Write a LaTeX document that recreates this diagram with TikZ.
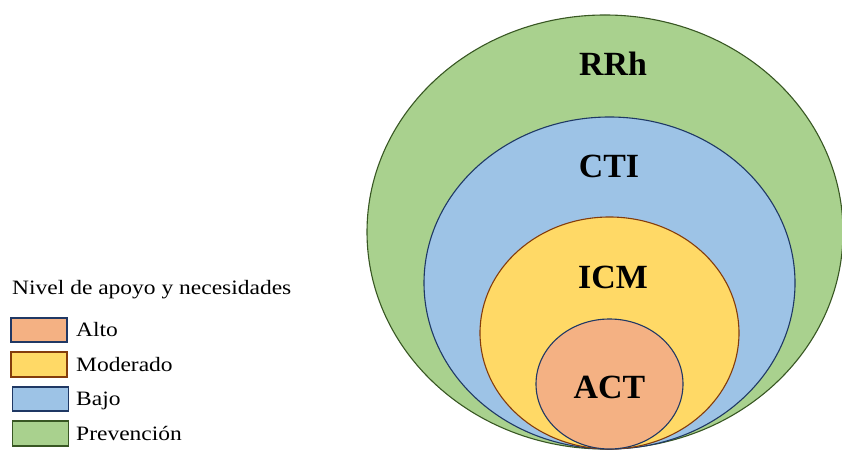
\documentclass[tikz,border=0pt]{standalone}
\usepackage{fontspec}
\setmainfont{Liberation Serif}
\newfontfamily\legendfont[FakeStretch=1.15]{Liberation Serif}
\usepackage{xcolor}
\usepackage{tikz}
\usetikzlibrary{positioning}

\definecolor{prevfill}{HTML}{A9D18E}
\definecolor{prevline}{HTML}{385723}
\definecolor{bajofill}{HTML}{9DC3E6}
\definecolor{bajoline}{HTML}{1F3864}
\definecolor{modfill}{HTML}{FFD966}
\definecolor{modline}{HTML}{843C0C}
\definecolor{altofill}{HTML}{F4B183}
\definecolor{altoline}{HTML}{203864}

\begin{document}
\begin{tikzpicture}[
x=1bp, y=-1bp,
node distance=10bp and 9bp,
ring/.style={line width=1.1bp},
lab/.style={inner sep=0pt, text height=22.5bp, text depth=0pt, font=\fontsize{34}{40}\selectfont\bfseries},
key/.style={draw, line width=1.6bp, outer sep=0pt, minimum width=56bp, minimum height=24.5bp, inner sep=0pt},
keytxt/.style={inner sep=0pt, text height=13.5bp, text depth=0pt, font=\legendfont\fontsize{20.5}{24}\selectfont}
]
\useasboundingbox (0,0) rectangle (842,450);

% nested levels
\draw[ring, fill=prevfill, draw=prevline] (605,232) ellipse [x radius=238, y radius=217];
\draw[ring, fill=bajofill, draw=bajoline] (609.5,283) ellipse [x radius=185.5, y radius=166];
\draw[ring, fill=modfill, draw=modline] (609.5,333) ellipse [x radius=129.5, y radius=116];
\draw[ring, fill=altofill, draw=altoline] (609.5,384) ellipse [x radius=73.5, y radius=65];

\node[lab] (rrh) at (613,64) {RRh};
\node[lab] (cti) at (609,166.7) {CTI};
\node[lab] (icm) at (613,277) {ICM};
\node[lab] (act) at (609.5,387.2) {ACT};

% legend
\node[keytxt, anchor=base west] (tit) at (12,295) {Nivel de apoyo y necesidades};
\node[key, fill=altofill, draw=altoline] (alto) at (39,330) {};
\node[key, fill=modfill, draw=modline, below=of alto] (mod) {};
\node[key, fill=bajofill, draw=bajoline, below=of mod, xshift=1.5bp] (bajo) {};
\node[key, fill=prevfill, draw=prevline, below=of bajo] (prev) {};

\node[keytxt, right=of alto] (altotxt) {Alto};
\node[keytxt, right=of mod] (modtxt) {Moderado};
\node[keytxt, right=7.5bp of bajo] (bajotxt) {Bajo};
\node[keytxt, right=7.5bp of prev] (prevtxt) {Prevención};
\end{tikzpicture}
\end{document}
